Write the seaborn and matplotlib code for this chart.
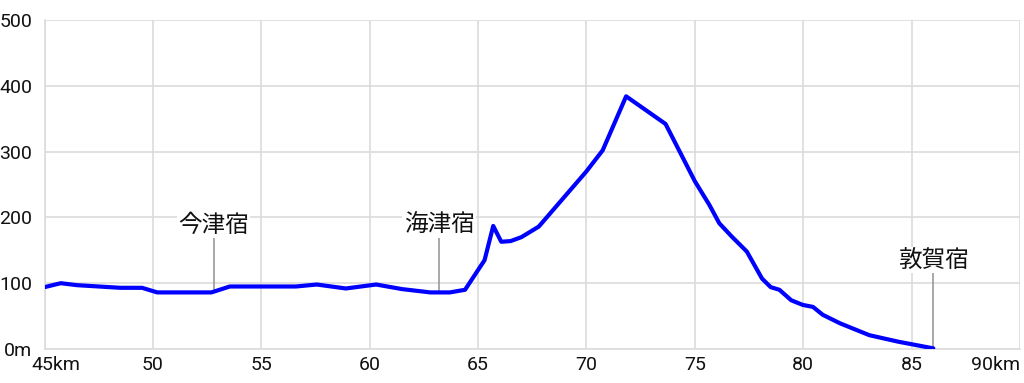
import matplotlib
matplotlib.use("Agg")
import matplotlib.pyplot as plt
import matplotlib.transforms as mtransforms
import seaborn as sns
import pandas as pd

# ---- data (distance km, elevation m) ----
dist = [45.0, 45.75, 46.5, 47.5, 48.5, 49.5, 50.2, 51.0, 52.7, 53.55, 55.0, 56.6,
        57.56, 58.9, 60.3, 61.5, 62.8, 63.7, 64.4, 65.3, 65.7, 66.07, 66.5, 67.0,
        67.8, 68.9, 70.0, 70.75, 71.83, 73.65, 75.0, 75.67, 76.13, 76.7, 77.4,
        78.1, 78.5, 78.9, 79.45, 79.98, 80.45, 80.9, 81.7, 83.05, 84.4, 86.0]
elev = [94, 100, 97, 95, 93, 93, 86, 86, 86, 95, 95, 95,
        98, 92, 98, 91, 86, 86, 90, 135, 187, 163, 164, 170,
        186, 228, 270, 302, 384, 342, 255, 219, 191, 171, 148,
        107, 94, 90, 74, 67, 64, 52, 39, 21, 11, 1]

stations = ["今津宿", "海津宿", "敦賀宿"]
station_km = [52.8, 63.2, 86.0]
station_elev = [86, 86, 1]
station_label_y = [188, 188, 135]
station_line_top = [169, 169, 117]

xticks = [45, 50, 55, 60, 65, 70, 75, 80, 85, 90]
xtick_labels = ["45km", "50", "55", "60", "65", "70", "75", "80", "85", "90km"]
yticks = [0, 100, 200, 300, 400, 500]
ytick_labels = ["0m", "100", "200", "300", "400", "500"]

df = pd.DataFrame({"km": dist, "m": elev})

sns.set_style("white")
plt.rcParams["font.family"] = ["Noto Sans CJK JP", "DejaVu Sans"]

fig = plt.figure(figsize=(10.24, 3.83), dpi=100)
ax = fig.add_axes([44.5 / 1024, 34 / 383, (1020 - 44.5) / 1024, (349 - 20) / 383])

ax.set_xlim(45, 90)
ax.set_ylim(0, 500)
ax.set_xticks(xticks)
ax.set_yticks(yticks)
ax.grid(True, color="#dcdcdc", linewidth=1.2)
ax.set_axisbelow(True)
for s in ["top", "right"]:
    ax.spines[s].set_visible(False)
for s in ["left", "bottom"]:
    ax.spines[s].set_color("#dcdcdc")
    ax.spines[s].set_linewidth(1.2)

# station marker lines
for km, e, top in zip(station_km, station_elev, station_line_top):
    ax.plot([km, km], [e, top], color="#999999", linewidth=1.2, zorder=2)

sns.lineplot(data=df, x="km", y="m", ax=ax, color="#0000ff", linewidth=3.0,
             zorder=3, solid_joinstyle="round")

for name, km, ly in zip(stations, station_km, station_label_y):
    ax.text(km, ly, name, ha="center", va="center", fontsize=17, color="#111111",
            bbox=dict(facecolor="white", edgecolor="none", pad=1.0), zorder=4)

ax.set_xlabel("")
ax.set_ylabel("")
tick_font = dict(fontsize=14, color="#111111", family=["Roboto", "DejaVu Sans"])
ax.set_xticklabels(xtick_labels, **tick_font)
ax.set_yticklabels(ytick_labels, **tick_font)
ax.tick_params(axis="x", length=0, pad=5)
ax.tick_params(axis="y", length=0, pad=9)

labs = ax.get_xticklabels()
labs[0].set_transform(labs[0].get_transform() +
                      mtransforms.ScaledTranslation(11 / 100, 0, fig.dpi_scale_trans))
labs[-1].set_horizontalalignment("right")

fig.savefig("out.png", dpi=100)
